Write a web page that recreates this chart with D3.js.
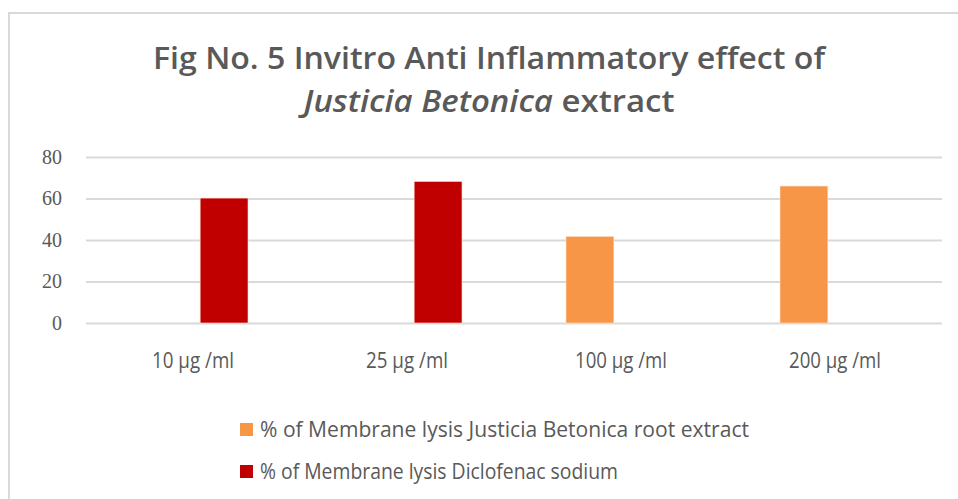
<!DOCTYPE html>
<head>
  <meta charset="utf-8">
  <script src="https://d3js.org/d3.v7.min.js"></script>
  <style>
    body { margin: 0; background: #fff; }
    * { font-family: "Open Sans", sans-serif; }
  </style>
</head>
<body>
<div id="my_dataviz"></div>
<script>

// data
var categories = ["10 \u00b5g /ml", "25 \u00b5g /ml", "100 \u00b5g /ml", "200 \u00b5g /ml"];
var seriesNames = ["% of Membrane lysis Justicia Betonica root extract",
                   "% of Membrane lysis Diclofenac sodium"];
var justiciaValues = [null, null, 41.7, 66];
var diclofenacValues = [60.2, 68.2, null, null];
var yTicks = [0, 20, 40, 60, 80];
var colors = ["#F79646", "#C00000"];

var W = 958, H = 499;
var margin = {top: 157, right: 16, bottom: 176, left: 86};
var width = W - margin.left - margin.right,
    height = H - margin.top - margin.bottom;

var svg = d3.select("#my_dataviz")
  .append("svg")
    .attr("width", W)
    .attr("height", H);

// chart frame
svg.append("path")
  .attr("d", "M9," + H + "V13H" + W)
  .attr("fill", "none")
  .attr("stroke", "#d9d9d9")
  .attr("stroke-width", 2);

// title
var title = svg.append("text")
  .attr("x", 489).attr("y", 69)
  .attr("text-anchor", "middle")
  .attr("fill", "#595959")
  .attr("textLength", 672).attr("lengthAdjust", "spacingAndGlyphs")
  .style("font-size", "31px")
  .style("font-weight", 600)
  .text("Fig No. 5 Invitro Anti Inflammatory effect of");
var line2 = svg.append("text")
  .attr("x", 489).attr("y", 112)
  .attr("text-anchor", "middle")
  .attr("fill", "#595959")
  .attr("textLength", 371).attr("lengthAdjust", "spacingAndGlyphs")
  .style("font-size", "31px")
  .style("font-weight", 600);
line2.append("tspan").style("font-style", "italic").text("Justicia Betonica");
line2.append("tspan").text(" extract");

var g = svg.append("g")
  .attr("transform", "translate(" + margin.left + "," + margin.top + ")");

var y = d3.scaleLinear()
  .domain([0, 80])
  .range([height, 0]);

var x = d3.scaleBand()
  .domain(categories)
  .range([0, width]);

// gridlines
g.append("g")
  .call(d3.axisLeft(y).tickValues(yTicks).tickSize(-width).tickFormat(""))
  .call(function(a) { a.select(".domain").remove(); })
  .selectAll(".tick line")
    .attr("stroke", "#d9d9d9")
    .attr("stroke-width", 2);

// y labels
g.append("g")
  .call(d3.axisLeft(y).tickValues(yTicks).tickSize(0).tickPadding(24))
  .call(function(a) { a.select(".domain").remove(); })
  .selectAll("text")
    .attr("fill", "#595959")
    .style("font-family", "'Liberation Serif', serif")
    .style("font-size", "20px");

// x labels
g.append("g")
  .attr("transform", "translate(0," + height + ")")
  .call(d3.axisBottom(x).tickSize(0).tickPadding(30))
  .call(function(a) { a.select(".domain").remove(); })
  .selectAll("text")
    .attr("fill", "#595959")
    .style("font-size", "21px")
    .attr("textLength", function(d, i) { return i < 2 ? 82 : 92; })
    .attr("lengthAdjust", "spacingAndGlyphs");

// bars
var x1 = d3.scaleBand()
  .domain([0, 1])
  .range([x.bandwidth() / 2 - 55, x.bandwidth() / 2 + 55])
  .paddingInner(0.23);

var rows = [justiciaValues, diclofenacValues];
rows.forEach(function(vals, s) {
  g.append("g").selectAll("rect")
    .data(categories.map(function(c, i) { return {cat: c, v: vals[i]}; })
      .filter(function(d) { return d.v != null; }))
    .enter()
    .append("rect")
      .attr("x", function(d) { return x(d.cat) + x1(s); })
      .attr("width", x1.bandwidth())
      .attr("y", function(d) { return y(d.v); })
      .attr("height", function(d) { return height - y(d.v); })
      .attr("fill", colors[s])
      .attr("stroke", "#fbe0cc")
      .attr("stroke-width", 0.6);
});

// legend
var legend = svg.append("g");
seriesNames.forEach(function(name, i) {
  var ly = 430 + i * 42;
  legend.append("rect")
    .attr("x", 240).attr("y", ly - 7)
    .attr("width", 13).attr("height", 13)
    .attr("fill", colors[i]);
  legend.append("text")
    .attr("x", 260).attr("y", ly)
    .attr("dy", "0.35em")
    .attr("fill", "#595959")
    .style("font-size", "21px")
    .attr("textLength", i === 0 ? 489 : 358)
    .attr("lengthAdjust", "spacingAndGlyphs")
    .text(name);
});

</script>
</body>
</html>
